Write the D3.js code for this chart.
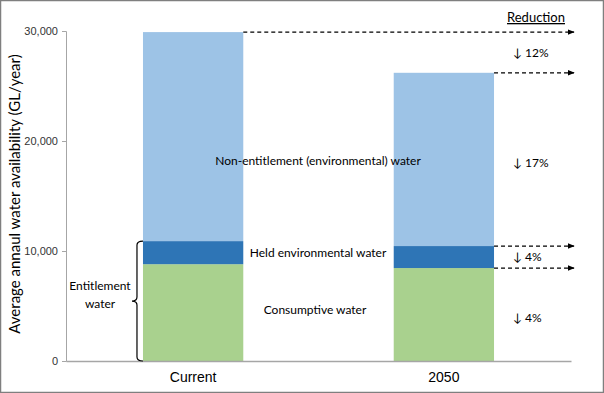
<!DOCTYPE html>
<html>
<head>
<meta charset="utf-8">
<script src="https://cdn.jsdelivr.net/npm/d3@7"></script>
<style>
  body { margin: 0; background: #fff; }
  svg { display: block; font-family: Lato, "Open Sans", sans-serif; }
</style>
</head>
<body>
<div id="chart"></div>
<script>
// chart data
var categories = ["Current", "2050"];
var seriesNames = ["Consumptive water", "Held environmental water", "Non-entitlement (environmental) water"];
var consumptive = [8800, 8450];
var heldEnv = [2100, 2000];
var nonEntitlement = [19000, 15750];
var yTicks = [0, 10000, 20000, 30000];
var reductions = ["\u2193 12%", "\u2193 17%", "\u2193 4%", "\u2193 4%"];

var colors = ["#a9d18e", "#2e75b6", "#9dc3e6"];

var svgWidth = 604;
var svgHeight = 393;
var margin = { top: 31, right: 33, bottom: 32, left: 66 };
var chartWidth = svgWidth - margin.left - margin.right;
var chartHeight = svgHeight - margin.top - margin.bottom;

var svg = d3.select("#chart").append("svg")
  .attr("width", svgWidth)
  .attr("height", svgHeight);

// frame
svg.append("rect")
  .attr("x", 0.5).attr("y", 0.5)
  .attr("width", svgWidth - 1).attr("height", svgHeight - 1)
  .attr("fill", "none").attr("stroke", "#7f7f7f").attr("stroke-width", 1.5);

var defs = svg.append("defs");
defs.append("marker")
  .attr("id", "arrow")
  .attr("viewBox", "0 0 10 10")
  .attr("refX", 9).attr("refY", 5)
  .attr("markerWidth", 6).attr("markerHeight", 6)
  .attr("orient", "auto")
  .append("path").attr("d", "M0,1 L10,5 L0,9 Z").attr("fill", "#000");

var chartGroup = svg.append("g")
  .attr("transform", `translate(${margin.left}, ${margin.top})`);

var xScale = d3.scaleBand()
  .domain(categories)
  .range([0, chartWidth])
  .paddingInner(0.6)
  .paddingOuter(0.307);

var yScale = d3.scaleLinear()
  .domain([0, 30000])
  .range([chartHeight, 0]);

// stacked data
var table = categories.map(function(c, i) {
  return { cat: c, consumptive: consumptive[i], held: heldEnv[i], non: nonEntitlement[i] };
});
var stack = d3.stack().keys(["consumptive", "held", "non"]);
var layers = stack(table);

chartGroup.selectAll("g.layer")
  .data(layers)
  .enter()
  .append("g")
  .attr("class", "layer")
  .attr("fill", (d, i) => colors[i])
  .selectAll("rect")
  .data(d => d)
  .enter()
  .append("rect")
  .attr("x", d => xScale(d.data.cat))
  .attr("y", d => yScale(d[1]))
  .attr("width", xScale.bandwidth())
  .attr("height", d => yScale(d[0]) - yScale(d[1]));

// y axis
var leftAxis = d3.axisLeft(yScale)
  .tickValues(yTicks)
  .tickFormat(d3.format(","))
  .tickSizeOuter(0)
  .tickSize(4);
var yAxis = chartGroup.append("g").call(leftAxis);
yAxis.select(".domain").attr("stroke", "#a6a6a6");
yAxis.selectAll(".tick line").attr("stroke", "#a6a6a6");
yAxis.selectAll(".tick text")
  .attr("font-size", "11px")
  .attr("fill", "#333")
  .attr("x", -8);

// x axis
var bottomAxis = d3.axisBottom(xScale).tickSize(0).tickSizeOuter(0);
var xAxis = chartGroup.append("g")
  .attr("transform", `translate(0, ${chartHeight})`)
  .call(bottomAxis);
xAxis.select(".domain").attr("stroke", "#a6a6a6").attr("stroke-width", 1.5);
xAxis.selectAll(".tick text")
  .attr("font-size", "14px")
  .attr("fill", "#000")
  .attr("dy", "1.25em");

// y axis title
chartGroup.append("text")
  .attr("transform", "rotate(-90)")
  .attr("x", -chartHeight / 2 + 2)
  .attr("y", -margin.left + 20)
  .attr("text-anchor", "middle")
  .attr("font-size", "15px")
  .attr("fill", "#000")
  .text("Average annaul water availability (GL/year)");

// dashed arrows
var cur = table[0], fut = table[1];
var arrowEnd = chartWidth + 3;
var arrows = [
  { x: xScale("Current") + xScale.bandwidth(), v: cur.consumptive + cur.held + cur.non },
  { x: xScale("2050") + xScale.bandwidth(), v: fut.consumptive + fut.held + fut.non },
  { x: xScale("2050") + xScale.bandwidth(), v: fut.consumptive + fut.held },
  { x: xScale("2050") + xScale.bandwidth(), v: fut.consumptive }
];
chartGroup.selectAll("line.arrow")
  .data(arrows)
  .enter()
  .append("line")
  .attr("class", "arrow")
  .attr("x1", d => d.x)
  .attr("x2", arrowEnd)
  .attr("y1", d => yScale(d.v))
  .attr("y2", d => yScale(d.v))
  .attr("stroke", "#000")
  .attr("stroke-width", 1.2)
  .attr("stroke-dasharray", "4,3")
  .attr("marker-end", "url(#arrow)");

// Reduction heading
var redX = 536 - margin.left;
chartGroup.append("text")
  .attr("x", redX)
  .attr("y", 18 - margin.top + 4)
  .attr("text-anchor", "middle")
  .attr("font-size", "13px")
  .attr("text-decoration", "underline")
  .text("Reduction");

var reductionY = [
  (yScale(cur.consumptive + cur.held + cur.non) + yScale(fut.consumptive + fut.held + fut.non)) / 2,
  yScale(20000) + 22,
  (yScale(fut.consumptive + fut.held) + yScale(fut.consumptive)) / 2,
  yScale(fut.consumptive / 2) + 3
];
chartGroup.selectAll("text.red")
  .data(reductions)
  .enter()
  .append("text")
  .attr("class", "red")
  .attr("x", 513 - margin.left)
  .attr("y", (d, i) => reductionY[i])
  .attr("dy", "0.35em")
  .attr("font-size", "12px")
  .text(d => d);

// segment labels
var labelX = 318 - margin.left;
chartGroup.append("text")
  .attr("x", labelX).attr("y", yScale(18200)).attr("dy", "0.35em")
  .attr("text-anchor", "middle").attr("font-size", "12px")
  .text(seriesNames[2]);
chartGroup.append("text")
  .attr("x", labelX).attr("y", yScale(9800)).attr("dy", "0.35em")
  .attr("text-anchor", "middle").attr("font-size", "12px")
  .text(seriesNames[1]);
chartGroup.append("text")
  .attr("x", labelX - 3).attr("y", yScale(4700)).attr("dy", "0.35em")
  .attr("text-anchor", "middle").attr("font-size", "12px")
  .text(seriesNames[0]);

// entitlement brace
var bx = xScale("Current") - 6;
var yTop = yScale(cur.consumptive + cur.held);
var yBot = yScale(0);
var yMid = (yTop + yBot) / 2;
var r = 4;
var braceD = `M${bx + 6},${yTop} Q${bx},${yTop} ${bx},${yTop + r}`
  + ` L${bx},${yMid - r} Q${bx},${yMid} ${bx - 5},${yMid}`
  + ` Q${bx},${yMid} ${bx},${yMid + r}`
  + ` L${bx},${yBot - r} Q${bx},${yBot} ${bx + 6},${yBot}`;
chartGroup.append("path")
  .attr("d", braceD)
  .attr("fill", "none")
  .attr("stroke", "#000")
  .attr("stroke-width", 1.2);

chartGroup.append("text")
  .attr("x", 100 - margin.left).attr("y", yMid - 11)
  .attr("text-anchor", "middle").attr("font-size", "12px")
  .text("Entitlement");
chartGroup.append("text")
  .attr("x", 100 - margin.left).attr("y", yMid + 7)
  .attr("text-anchor", "middle").attr("font-size", "12px")
  .text("water");
</script>
</body>
</html>
